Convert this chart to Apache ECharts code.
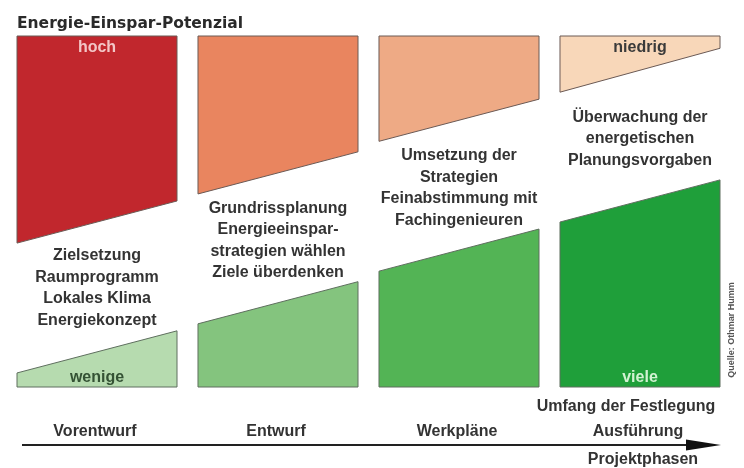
<!DOCTYPE html>
<html>
<head>
<meta charset="utf-8">
<script src="https://cdn.jsdelivr.net/npm/echarts@6/dist/echarts.min.js"></script>
<style>
html,body{margin:0;padding:0;background:#fff;}
#chart{width:744px;height:468px;}
</style>
</head>
<body>
<div id="chart"></div>
<script>
// ---- data ----
const phases = ['Vorentwurf', 'Entwurf', 'Werkpläne', 'Ausführung'];
// Energie-Einspar-Potenzial (depth of upper block, % of full height) at left / right edge of each phase
const potentialLeft  = [59, 45, 30, 16];
const potentialRight = [47, 33, 18, 3.5];
// Umfang der Festlegung (height of lower block) at left / right edge of each phase
const festlegungLeft  = [4, 18, 33, 47];
const festlegungRight = [16, 30, 45, 59];
const phaseTasks = [
  ['Zielsetzung', 'Raumprogramm', 'Lokales Klima', 'Energiekonzept'],
  ['Grundrissplanung', 'Energieeinspar-', 'strategien wählen', 'Ziele überdenken'],
  ['Umsetzung der', 'Strategien', 'Feinabstimmung mit', 'Fachingenieuren'],
  ['Überwachung der', 'energetischen', 'Planungsvorgaben']
];
const potentialColors  = ['#c1272d', '#e9855f', '#eeaa85', '#f8d7b9'];
const festlegungColors = ['#b6dbaf', '#84c47e', '#53b455', '#1f9f3a'];
const potentialTags  = ['hoch', '', '', 'niedrig'];
const festlegungTags = ['wenige', '', '', 'viele'];
const title = 'Energie-Einspar-Potenzial';
const scopeTitle = 'Umfang der Festlegung';
const axisTitle = 'Projektphasen';
const source = 'Quelle: Othmar Humm';

// ---- layout / style ----
const COL_W = 0.884;
const BODY_FONT = 'bold 16px "Liberation Sans", Arial, sans-serif';
const TEXT_COLOR = '#333';

const seriesData = phases.map((p, i) => [i, potentialLeft[i], potentialRight[i], festlegungLeft[i], festlegungRight[i]]);

function renderItem(params, api) {
  const i = api.value(0);
  const pl = api.value(1), pr = api.value(2), fl = api.value(3), fr = api.value(4);
  const x0 = i, x1 = i + COL_W, xm = i + COL_W / 2;
  const redPts = [[x0, 100], [x1, 100], [x1, 100 - pr], [x0, 100 - pl]].map(p => api.coord(p));
  const greenPts = [[x0, 0], [x1, 0], [x1, fr], [x0, fl]].map(p => api.coord(p));
  const midVal = ((100 - (pl + pr) / 2) + (fl + fr) / 2) / 2;
  const mid = api.coord([xm, midVal]);
  const topC = api.coord([xm, 100]);
  const botC = api.coord([xm, 0]);
  const children = [
    { type: 'polygon', shape: { points: redPts },
      style: { fill: potentialColors[i], stroke: '#6b5a55', lineWidth: 1 } },
    { type: 'polygon', shape: { points: greenPts },
      style: { fill: festlegungColors[i], stroke: '#5f6f5f', lineWidth: 1 } },
    { type: 'text', style: { text: phaseTasks[i].join('\n'), x: mid[0], y: mid[1] + (i === 0 ? 1 : 3),
      align: 'center', verticalAlign: 'middle', font: BODY_FONT, lineHeight: 21.5, fill: TEXT_COLOR } },
    { type: 'text', style: { text: phases[i], x: botC[0] - 2, y: botC[1] + 45,
      align: 'center', verticalAlign: 'middle', font: BODY_FONT, fill: TEXT_COLOR } }
  ];
  if (potentialTags[i]) {
    children.push({ type: 'text', style: { text: potentialTags[i], x: topC[0], y: topC[1] + 12,
      align: 'center', verticalAlign: 'middle', font: BODY_FONT,
      fill: i === 0 ? '#f3c6c6' : '#3a3a3a' } });
  }
  if (festlegungTags[i]) {
    children.push({ type: 'text', style: { text: festlegungTags[i], x: botC[0], y: botC[1] - 9,
      align: 'center', verticalAlign: 'middle', font: BODY_FONT,
      fill: i === 3 ? '#d2f2d2' : '#345234' } });
  }
  return { type: 'group', children };
}

const chart = echarts.init(document.getElementById('chart'), null, { renderer: 'canvas' });
chart.setOption({
  animation: false,
  backgroundColor: '#fff',
  grid: { left: 17, right: 24, top: 36, bottom: 81 },
  xAxis: { type: 'value', min: 0, max: phases.length - 1 + COL_W, show: false },
  yAxis: { type: 'value', min: 0, max: 100, show: false },
  series: [{
    type: 'custom',
    clip: false,
    renderItem,
    data: seriesData
  }],
  graphic: [
    { type: 'text', left: 17, top: 16, style: { text: title,
      font: 'bold 15.5px "DejaVu Sans", sans-serif', fill: '#2a2a2a' } },
    { type: 'text', x: 626, y: 407, style: { text: scopeTitle, align: 'center', verticalAlign: 'middle',
      font: BODY_FONT, fill: TEXT_COLOR } },
    { type: 'line', shape: { x1: 22, y1: 445, x2: 700, y2: 445 },
      style: { stroke: '#222', lineWidth: 2 } },
    { type: 'polygon', shape: { points: [[686, 439.5], [721, 445], [686, 450.5]] },
      style: { fill: '#111' } },
    { type: 'text', x: 643, y: 460, style: { text: axisTitle, align: 'center', verticalAlign: 'middle',
      font: BODY_FONT, fill: TEXT_COLOR } },
    { type: 'text', x: 732, y: 330, rotation: Math.PI / 2, style: { text: source,
      align: 'center', verticalAlign: 'middle',
      font: 'bold 9px "Liberation Sans", Arial, sans-serif', fill: '#555' } }
  ]
});
</script>
</body>
</html>
